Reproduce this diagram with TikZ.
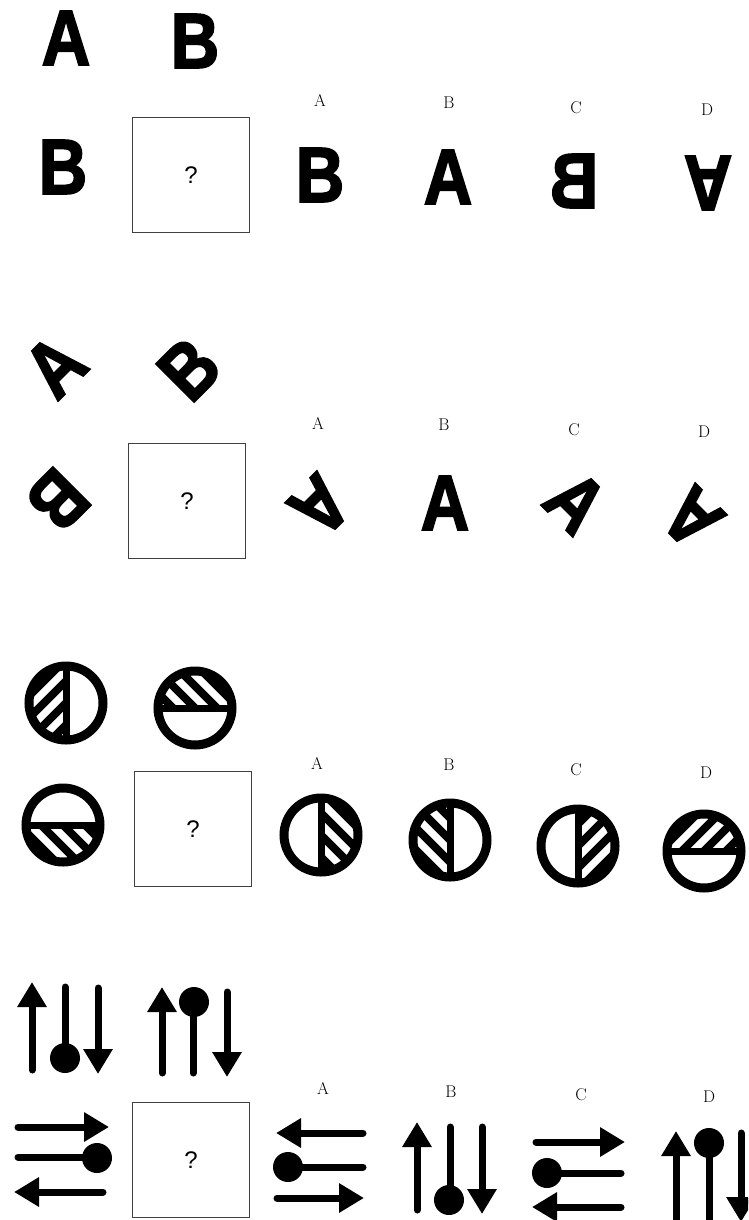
\documentclass[tikz,border=0pt]{standalone}
\usepackage{fontspec}
\usepackage{graphicx}
\setsansfont{Liberation Sans}
\newfontfamily\bigletter{Liberation Sans Bold}[FakeBold=2.5]
\usetikzlibrary{arrows.meta}

% ring with one hatched half: x, y, angle of hatched half, stripe slope
\newcommand{\hatchcircle}[4]{%
  \begin{scope}
    \clip (#1,#2) circle (37);
    \clip[rotate around={#3:(#1,#2)}] (#1,#2-45) rectangle (#1+45,#2+45);
    \foreach \k in {-5,...,5}
      \draw[line width=8pt] ({#1+\k*22-50},{#2-(#4)*50}) -- ++(100,{(#4)*100});
  \end{scope}
  \draw[line width=9pt] (#1,#2) circle (37);
  \draw[line width=7pt, rotate around={#3:(#1,#2)}] (#1,#2-37) -- (#1,#2+37);
}
\newcommand{\narrow}[1]{\scalebox{.86}[1]{#1}}

\begin{document}
\begin{tikzpicture}[x=1pt,y=-1pt,
    letter/.style={inner sep=0pt, font=\bigletter\fontsize{78}{78}\selectfont},
    lbl/.style={inner sep=0pt, font=\fontsize{17}{17}\selectfont},
    qbox/.style={draw=black!75, line width=0.9pt, minimum width=117pt, minimum height=115pt,
      font=\sffamily\fontsize{24}{24}\selectfont},
    shaft/.style={line width=7pt, line cap=round},
    arr/.style={shaft, -{Triangle[width=28pt,length=25pt]}}]
  \useasboundingbox (0,0) rectangle (748,1220);
  \clip (0,0) rectangle (748,1220);

  % Row 1: letters
  \node[letter] (a1) at (66,38) {\narrow{A}};
  \node[letter] (b1) at (195,41) {\narrow{B}};
  \node[letter] (b2) at (63,167) {\narrow{B}};
  \node[qbox] (q1) at (191,175) {?};
  \node[lbl] (la1) at (320,100) {A};
  \node[lbl] (lb1) at (449,103) {B};
  \node[lbl] (lc1) at (576,108) {C};
  \node[lbl] (ld1) at (707,110) {D};
  \node[letter] (oa1) at (320,175) {\narrow{B}};
  \node[letter] (ob1) at (448,177) {\narrow{A}};
  \node[letter] (oc1) at (574,181) {\scalebox{-.86}[1]{B}};
  \node[letter, rotate=180] (od1) at (708,183) {\narrow{A}};

  % Row 2: turned letters
  \node[letter, rotate=45] (a2) at (55,366) {\narrow{A}};
  \node[letter, rotate=45] (b3) at (189,369) {\narrow{B}};
  \node[letter, rotate=-135] (b4) at (58,500) {\narrow{B}};
  \node[qbox] (q2) at (187,501) {?};
  \node[lbl] (la2) at (318,423) {A};
  \node[lbl] (lb2) at (444,425) {B};
  \node[lbl] (lc2) at (574,430) {C};
  \node[lbl] (ld2) at (704,432) {D};
  \node[letter, rotate=-135] (oa2) at (320,506) {\narrow{A}};
  \node[letter] (ob2) at (445,503) {\narrow{A}};
  \node[letter, rotate=-45] (oc2) at (576,502) {\narrow{A}};
  \node[letter, rotate=135] (od2) at (692,518) {\narrow{A}};

  % Row 3: circles
  \hatchcircle{66}{703}{180}{-1}
  \hatchcircle{195}{708}{90}{1}
  \hatchcircle{63}{825}{270}{1}
  \node[qbox] (q3) at (193,829) {?};
  \node[lbl] (la3) at (317,763) {A};
  \node[lbl] (lb3) at (449,765) {B};
  \node[lbl] (lc3) at (576,770) {C};
  \node[lbl] (ld3) at (706,773) {D};
  \hatchcircle{321}{835}{0}{1}
  \hatchcircle{450}{840}{180}{1}
  \hatchcircle{578}{846}{0}{-1}
  \hatchcircle{704}{851}{90}{-1}

  % Row 4: arrows
  \draw[arr] (32,1070) -- (32,982);
  \draw[shaft] (65,987) -- (65,1058); \fill (65,1058) circle (15);
  \draw[arr] (98,988) -- (98,1074);
  \draw[arr] (162,1073) -- (162,987);
  \draw[shaft] (193,1002) -- (193,1073); \fill (194,1002) circle (15);
  \draw[arr] (227,992) -- (227,1077);
  \draw[arr] (18,1127) -- (109,1127);
  \draw[shaft] (18,1157) -- (97,1157); \fill (97,1158) circle (15);
  \draw[arr] (103,1192) -- (14,1192);
  \node[qbox] (q4) at (191,1160) {?};
  \node[lbl] (la4) at (323,1088) {A};
  \node[lbl] (lb4) at (451,1092) {B};
  \node[lbl] (lc4) at (581,1095) {C};
  \node[lbl] (ld4) at (709,1097) {D};
  % options
  \draw[arr] (363,1133) -- (276,1133);
  \draw[shaft] (288,1167) -- (363,1167); \fill (288,1167) circle (15);
  \draw[arr] (277,1198) -- (364,1198);
  \draw[arr] (417,1210) -- (417,1122);
  \draw[shaft] (450,1127) -- (450,1200); \fill (449,1200) circle (15);
  \draw[arr] (482,1127) -- (482,1214);
  \draw[arr] (536,1142) -- (625,1142);
  \draw[shaft] (547,1173) -- (621,1173); \fill (547,1173) circle (15);
  \draw[arr] (621,1207) -- (532,1207);
  \draw[arr] (676,1240) -- (676,1131);
  \draw[shaft] (709,1143) -- (709,1240); \fill (709,1143) circle (15);
  \draw[arr] (741,1133) -- (741,1222);
\end{tikzpicture}
\end{document}
